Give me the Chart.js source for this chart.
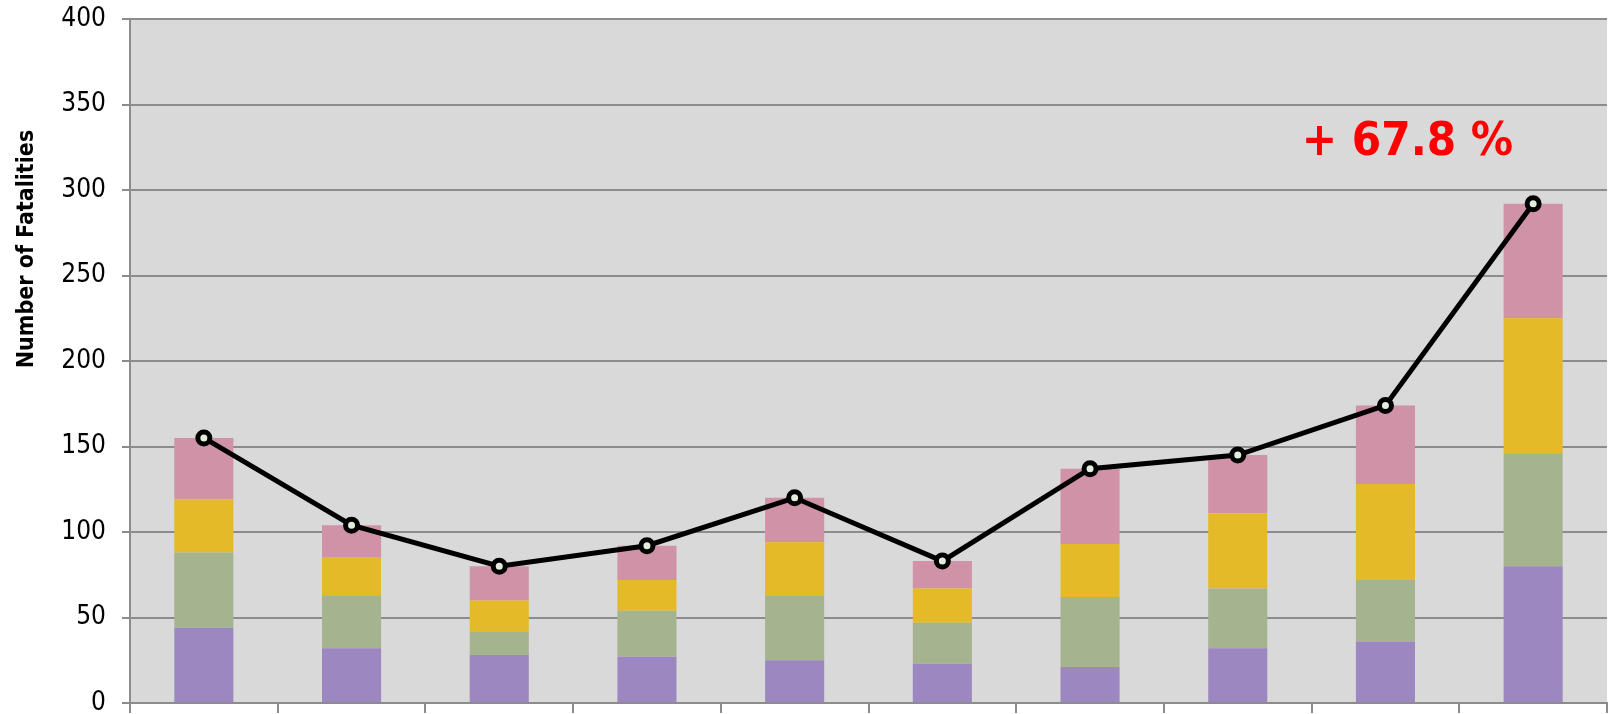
<!DOCTYPE html>
<html>
<head>
<meta charset="utf-8">
<script src="https://cdn.jsdelivr.net/npm/chart.js@4/dist/chart.umd.min.js"></script>
<style>
    html, body { margin: 0; padding: 0; background: #ffffff; }
    #wrap { width: 1618px; height: 714px; position: relative; }
</style>
</head>
<body>
<div id="wrap"><canvas id="fatalityChart"></canvas></div>
<script>
const categories = ['1', '2', '3', '4', '5', '6', '7', '8', '9', '10'];

// stacked segments, bottom to top
const purpleValues = [44, 32, 28, 27, 25, 23, 21, 32, 36, 80];
const greenValues  = [44, 31, 14, 27, 38, 24, 41, 35, 36, 66];
const yellowValues = [31, 22, 18, 18, 31, 20, 31, 44, 56, 79];
const pinkValues   = [36, 19, 20, 20, 26, 16, 44, 34, 46, 67];

const yTicks = [0, 50, 100, 150, 200, 250, 300, 350, 400];

const totals = categories.map((c, i) => purpleValues[i] + greenValues[i] + yellowValues[i] + pinkValues[i]);

const FONT = '"DejaVu Sans Condensed", "DejaVu Sans", sans-serif';
const GRID = '#8c8c8c';

// grey plot area, painted under everything else
const plotBackground = {
    id: 'plotBackground',
    beforeDraw: function (chart) {
        const a = chart.chartArea;
        const ctx = chart.ctx;
        ctx.save();
        ctx.fillStyle = '#d9d9d9';
        ctx.fillRect(a.left, a.top, a.right - a.left, a.bottom - a.top);
        ctx.restore();
    }
};

// axis title and the growth label over the last two years
const extraText = {
    id: 'extraText',
    afterDraw: function (chart) {
        const ctx = chart.ctx;
        ctx.save();
        ctx.fillStyle = '#000000';
        ctx.font = 'bold 23px ' + FONT;
        ctx.textAlign = 'center';
        ctx.textBaseline = 'middle';
        ctx.translate(27, 249);
        ctx.rotate(-Math.PI / 2);
        ctx.fillText('Number of Fatalities', 0, 0);
        ctx.restore();

        const n = totals.length;
        const growth = (totals[n - 1] / totals[n - 2] - 1) * 100;
        const x = chart.scales.x;
        ctx.save();
        ctx.fillStyle = '#ff0000';
        ctx.font = 'bold 47px ' + FONT;
        ctx.textAlign = 'center';
        ctx.textBaseline = 'alphabetic';
        ctx.fillText('+ ' + growth.toFixed(1) + ' %', x.getPixelForValue(n - 2) + 22, 155);
        ctx.restore();
    }
};

const barBase = {
    type: 'bar',
    stack: 'fatalities',
    order: 1,
    barPercentage: 0.4,
    categoryPercentage: 1.0,
    borderWidth: 0
};

new Chart(document.getElementById('fatalityChart').getContext('2d'), {
    data: {
        labels: categories,
        datasets: [
            {
                type: 'line',
                data: totals,
                order: 0,
                stack: 'total',
                borderColor: '#000000',
                borderWidth: 5,
                pointRadius: 6,
                pointBorderWidth: 5,
                pointBackgroundColor: '#e4ecdb',
                pointBorderColor: '#000000',
                tension: 0
            },
            Object.assign({ data: purpleValues, backgroundColor: '#9d87c1' }, barBase),
            Object.assign({ data: greenValues, backgroundColor: '#a5b38f' }, barBase),
            Object.assign({ data: yellowValues, backgroundColor: '#e5ba28' }, barBase),
            Object.assign({ data: pinkValues, backgroundColor: '#d092a6' }, barBase)
        ]
    },
    options: {
        responsive: true,
        maintainAspectRatio: false,
        animation: false,
        layout: { padding: { top: 19, right: 0, bottom: 0, left: 0 } },
        plugins: {
            legend: { display: false },
            tooltip: { enabled: false }
        },
        scales: {
            x: {
                stacked: true,
                offset: true,
                grid: {
                    offset: true,
                    drawOnChartArea: false,
                    drawTicks: true,
                    tickLength: 10,
                    color: GRID,
                    lineWidth: 2
                },
                border: { color: GRID, width: 2 },
                ticks: { display: false }
            },
            y: {
                stacked: true,
                min: 0,
                max: 400,
                afterBuildTicks: function (scale) {
                    scale.ticks = yTicks.map(v => ({ value: v }));
                },
                afterFit: function (scale) {
                    // fixed gutter; the bottom label may run off the canvas edge
                    scale.width = 130;
                    scale.paddingTop = 0;
                    scale.paddingBottom = 0;
                },
                grid: {
                    color: GRID,
                    lineWidth: 2,
                    tickLength: 8
                },
                border: { color: GRID, width: 2 },
                ticks: {
                    color: '#000000',
                    padding: 16,
                    font: { family: FONT, size: 26 }
                }
            }
        }
    },
    plugins: [plotBackground, extraText]
});
</script>
</body>
</html>
